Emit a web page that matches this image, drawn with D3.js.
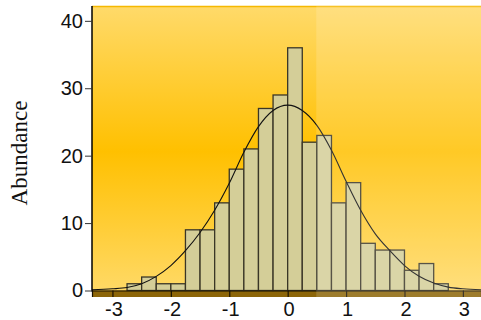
<!DOCTYPE html>
<html>
<head>
<meta charset="utf-8">
<script src="https://cdn.jsdelivr.net/npm/d3@7"></script>
<style>
html,body{margin:0;padding:0;background:#fff;}
svg{display:block;}
</style>
</head>
<body>
<svg id="chart" width="481" height="320"></svg>
<script>
// ---- data ----
const binStarts = [-2.75,-2.5,-2.25,-2,-1.75,-1.5,-1.25,-1,-0.75,-0.5,-0.25,0,0.25,0.5,0.75,1,1.25,1.5,1.75,2,2.25,2.5];
const binWidth = 0.25;
const counts = [1,2,1,1,9,9,13,18,21,27,29,36,22,23,13,16,7,6,6,3,4,1];
const curveX = [-3.35,-3,-2.75,-2.5,-2.25,-2,-1.75,-1.5,-1.25,-1,-0.75,-0.5,-0.25,0,0.25,0.5,0.75,1,1.25,1.5,1.75,2,2.25,2.5,2.75,3,3.31];
const curveY = [0.1,0.25,0.45,1.0,2.1,3.7,5.9,8.6,11.9,15.9,20.5,24.3,26.7,27.5,26.7,24.5,20.8,16.2,11.9,8.4,5.9,3.7,2.1,1.1,0.5,0.25,0.1];
const xTicks = [-3,-2,-1,0,1,2,3];
const yTicks = [0,10,20,30,40];
const yLabel = "Abundance";

// ---- layout ----
const L = 92, R = 481, T = 6, B = 290.5;
const svg = d3.select("#chart");
const x = d3.scaleLinear().domain([-3.35, 3.31]).range([L, R]);
const y = d3.scaleLinear().domain([0, 42.2]).range([B, T]);

const defs = svg.append("defs");
const grad = defs.append("linearGradient").attr("id","bg")
  .attr("gradientUnits","userSpaceOnUse").attr("x1",0).attr("y1",T).attr("x2",0).attr("y2",297);
grad.append("stop").attr("offset",0).attr("stop-color","#FFDA6A");
grad.append("stop").attr("offset",0.5).attr("stop-color","#FFC000");
grad.append("stop").attr("offset",1).attr("stop-color","#FFDA6A");

// background
svg.append("rect").attr("x",L).attr("y",T).attr("width",R-L).attr("height",297-T)
  .attr("fill","url(#bg)");
svg.append("line").attr("x1",L).attr("x2",R).attr("y1",T+0.5).attr("y2",T+0.5)
  .attr("stroke","#F5B800").attr("stroke-width",1.5);

// bottom band
svg.append("rect").attr("x",L).attr("y",B).attr("width",R-L).attr("height",297-B)
  .attr("fill","#8C6508");

// bars
svg.append("g").selectAll("rect").data(binStarts).join("rect")
  .attr("x", d => x(d))
  .attr("y", (d,i) => y(counts[i]))
  .attr("width", d => x(d+binWidth) - x(d))
  .attr("height", (d,i) => y(0) - y(counts[i]))
  .attr("fill","#D4CE98")
  .attr("stroke","#3a3626")
  .attr("stroke-width",1.3);

// curve
const line = d3.line().x(d => x(d[0])).y(d => y(d[1])).curve(d3.curveMonotoneX);
svg.append("path").datum(curveX.map((v,i)=>[v,curveY[i]]))
  .attr("d", line).attr("fill","none").attr("stroke","#111").attr("stroke-width",1.1);

// x axis
const xAxis = d3.axisBottom(x).tickValues(xTicks).tickSize(6.5).tickPadding(5)
  .tickFormat(d => String(d));
const gx = svg.append("g").attr("transform",`translate(0,${B})`).call(xAxis);
gx.select(".domain").attr("stroke","#1a1200").attr("stroke-width",1.2);
gx.selectAll(".tick line").attr("stroke","#1a1200").attr("stroke-width",1.2);
gx.selectAll(".tick text").attr("font-family","'Liberation Sans', Arial, sans-serif")
  .attr("font-size",20).attr("fill","#111").attr("dx",1).attr("dy","0.72em");

// y axis
const yAxis = d3.axisLeft(y).tickValues(yTicks).tickSize(7).tickPadding(2)
  .tickFormat(d => String(d));
const gy = svg.append("g").attr("transform",`translate(${L},0)`).call(yAxis);
gy.select(".domain").attr("d",`M0,${T}V${B+1}`).attr("stroke","#000").attr("stroke-width",1.5);
gy.selectAll(".tick line").attr("stroke","#333").attr("stroke-width",1);
gy.selectAll(".tick text").attr("font-family","'Liberation Sans', Arial, sans-serif")
  .attr("font-size",20).attr("fill","#111");

// watermark-like lighter area on right
svg.append("rect").attr("x",x(0.49)).attr("y",T).attr("width",R-x(0.49)).attr("height",297-T)
  .attr("fill","#fff").attr("opacity",0.15);

// y label
svg.append("text").attr("transform","translate(27,153) rotate(-90)")
  .attr("text-anchor","middle")
  .attr("font-family","'Liberation Serif', 'Times New Roman', serif")
  .attr("font-size",23).attr("fill","#111").text(yLabel);
</script>
</body>
</html>
